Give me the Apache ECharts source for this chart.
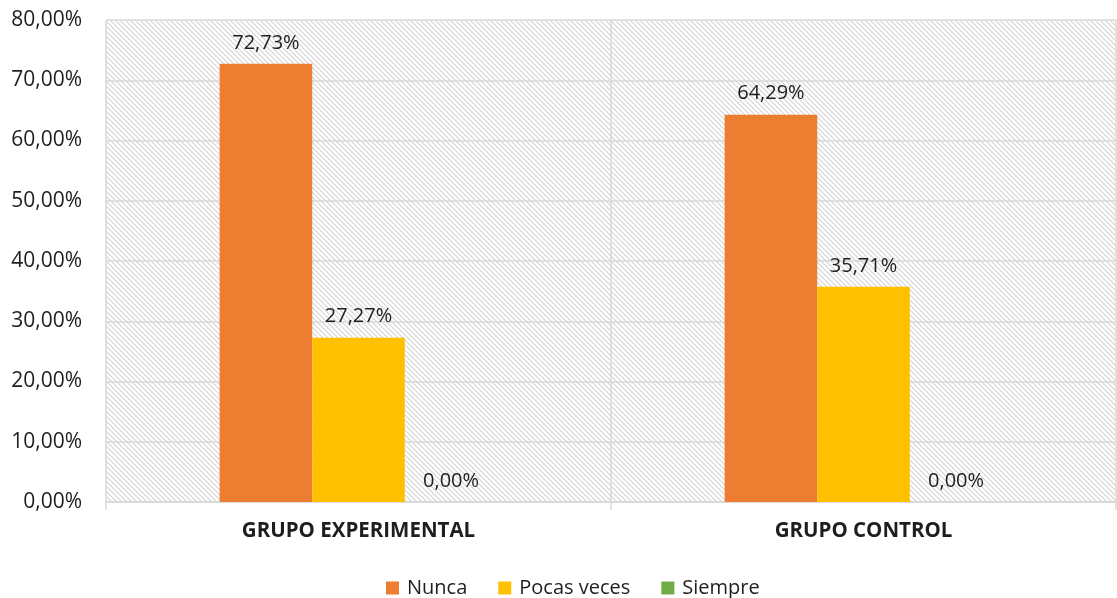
<!DOCTYPE html>
<html>
<head>
<meta charset="utf-8">
<script src="https://cdn.jsdelivr.net/npm/echarts@6/dist/echarts.min.js"></script>
<style>
  html, body { margin: 0; padding: 0; background: #fff; }
  #chart { width: 1117px; height: 598px; }
</style>
</head>
<body>
<div id="chart"></div>
<script>
var categories = ['GRUPO EXPERIMENTAL', 'GRUPO CONTROL'];
var seriesNames = ['Nunca', 'Pocas veces', 'Siempre'];
var nunca = [72.73, 64.29];
var pocasVeces = [27.27, 35.71];
var siempre = [0, 0];
var seriesColors = ['#ED7D31', '#FFC000', '#70AD47'];

// hatch pattern for the plot area
function makeHatch() {
  var size = 5;
  var c = document.createElement('canvas');
  c.width = size; c.height = size;
  var ctx = c.getContext('2d');
  ctx.fillStyle = '#ffffff';
  ctx.fillRect(0, 0, size, size);
  ctx.strokeStyle = '#d4d4d4';
  ctx.lineWidth = 1.2;
  ctx.beginPath();
  ctx.moveTo(-1, -1); ctx.lineTo(size + 1, size + 1);
  ctx.moveTo(-1, size - 1); ctx.lineTo(1, size + 1);
  ctx.moveTo(size - 1, -1); ctx.lineTo(size + 1, 1);
  ctx.stroke();
  return c;
}

function fmt(v) {
  return v.toFixed(2).replace('.', ',') + '%';
}

var font = 'Open Sans';
var textColor = '#1e1e1e';
var chart = echarts.init(document.getElementById('chart'));

var data = [nunca, pocasVeces, siempre];
var series = seriesNames.map(function (name, i) {
  return {
    name: name,
    type: 'bar',
    data: data[i],
    barGap: 0,
    barCategoryGap: '45%',
    itemStyle: { color: seriesColors[i] },
    label: {
      show: true,
      position: 'top',
      distance: 11,
      color: textColor,
      fontFamily: font,
      fontSize: 20,
      formatter: function (p) { return fmt(p.value); }
    }
  };
});

chart.setOption({
  animation: false,
  backgroundColor: '#fff',
  grid: {
    left: 106, right: 1, top: 20, bottom: 96,
    show: true,
    borderWidth: 0,
    backgroundColor: { image: makeHatch(), repeat: 'repeat' }
  },
  legend: {
    data: seriesNames,
    top: 573,
    left: 381,
    itemWidth: 13,
    itemHeight: 13,
    itemGap: 31,
    icon: 'rect',
    textStyle: { fontFamily: font, fontSize: 20, color: textColor, padding: [0, 0, 0, 3] }
  },
  xAxis: {
    type: 'category',
    data: categories,
    axisLine: { show: true, lineStyle: { color: '#d9d9d9', width: 1.5 } },
    axisTick: { show: true, length: 8, lineStyle: { color: '#d9d9d9', width: 1.5 } },
    splitLine: { show: true, lineStyle: { color: '#d9d9d9', width: 1.5 } },
    axisLabel: {
      margin: 19,
      color: textColor,
      fontFamily: font,
      fontSize: 20.5,
      fontWeight: 'bold'
    }
  },
  yAxis: {
    type: 'value',
    min: 0,
    max: 80,
    interval: 10,
    axisLine: { show: false },
    axisTick: { show: false },
    splitLine: { show: true, lineStyle: { color: '#d9d9d9', width: 1.5 } },
    axisLabel: {
      margin: 24,
      color: textColor,
      fontFamily: font,
      fontSize: 21,
      formatter: function (v) { return fmt(v); }
    }
  },
  series: series
});
</script>
</body>
</html>
